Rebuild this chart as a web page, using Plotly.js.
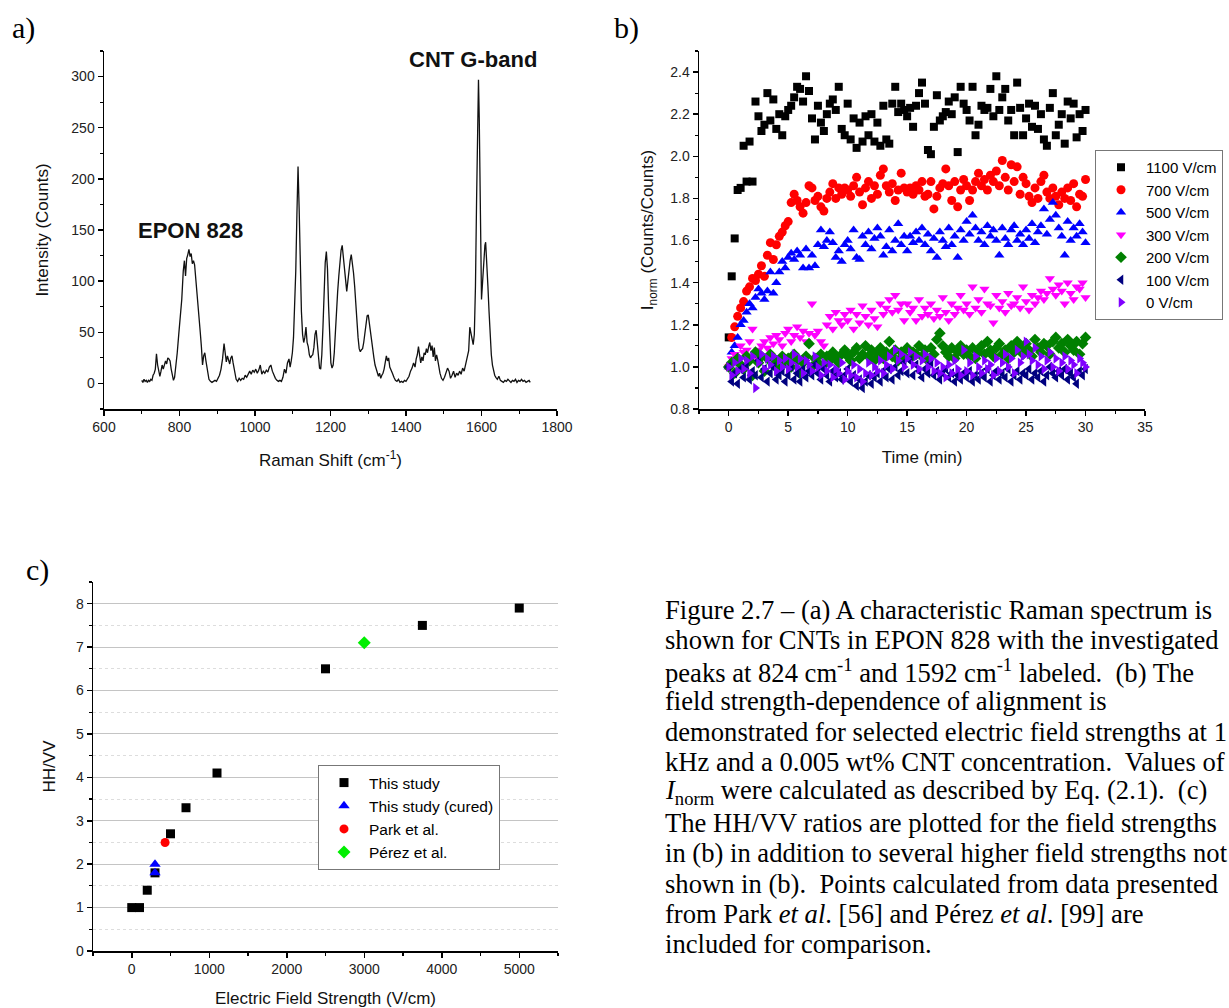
<!DOCTYPE html>
<html>
<head>
<meta charset="utf-8">
<script src="https://cdn.plot.ly/plotly-3.0.1.min.js"></script>
<style>
  html, body { margin: 0; padding: 0; background: #ffffff; }
  #chart { width: 1229px; height: 1008px; }
</style>
</head>
<body>
<div id="chart"></div>
<script>
// ---------------- Panel (a): Raman spectrum ----------------
const ramanShift = [
  700,703,706,709,712,715,718,721,724,727,730,733,736,739,742,745,748,751,754,757,
  760,763,766,769,772,775,778,781,784,787,790,794,798,802,806,810,813,816,819,822,
  825,828,831,834,837,840,843,846,849,852,855,858,861,864,867,870,874,878,882,886,
  890,894,898,902,906,910,914,918,921,924,927,930,933,936,939,942,946,950,954,958,
  962,966,970,974,978,982,986,990,994,998,1002,1006,1010,1014,1018,1022,1026,1030,1034,1038,
  1042,1046,1050,1054,1058,1062,1066,1070,1074,1078,1082,1086,1090,1093,1096,1099,1102,1105,1108,1111,
  1114,1117,1120,1123,1126,1129,1132,1135,1138,1141,1144,1147,1150,1153,1156,1159,1162,1165,1168,1171,
  1174,1177,1180,1183,1186,1189,1192,1195,1198,1201,1204,1207,1210,1213,1216,1219,1222,1225,1228,1231,
  1234,1237,1240,1243,1246,1249,1252,1255,1258,1261,1264,1267,1270,1273,1276,1279,1282,1285,1288,1291,
  1294,1297,1300,1303,1306,1309,1312,1315,1318,1321,1324,1327,1330,1333,1336,1339,1342,1345,1348,1351,
  1354,1357,1360,1364,1368,1372,1376,1380,1384,1388,1392,1396,1400,1404,1408,1412,1416,1420,1424,1427,
  1430,1433,1436,1439,1442,1445,1448,1451,1454,1457,1460,1463,1466,1469,1472,1475,1478,1481,1484,1487,
  1490,1494,1498,1502,1506,1510,1514,1518,1522,1526,1530,1534,1538,1542,1546,1550,1554,1558,1562,1566,
  1569,1572,1575,1578,1581,1584,1587,1590,1592,1594,1596,1598,1600,1603,1606,1609,1611,1614,1617,1620,
  1623,1626,1629,1632,1635,1638,1642,1646,1650,1654,1658,1662,1666,1670,1674,1678,1682,1686,1690,1694,
  1698,1702,1706,1710,1714,1718,1722,1726,1729
];
const intensity = [
  3,1,4,2,3,1,3,2,4,3,8,10,14,29,18,11,7,12,18,14,
  20,22,19,25,24,22,14,7,3,6,15,30,48,65,82,110,120,105,122,126,
  131,124,127,117,120,116,104,92,80,65,50,36,18,27,30,22,12,4,2,1,
  2,3,2,5,8,14,24,39,30,21,27,24,19,25,27,20,10,4,2,5,
  3,5,4,8,6,10,12,9,13,11,14,10,13,18,9,12,10,13,11,16,
  18,12,8,5,3,2,3,2,6,14,10,20,24,16,22,30,45,70,110,165,
  212,170,110,70,48,40,45,55,40,36,28,25,27,28,35,48,52,38,24,15,
  14,28,55,90,118,129,112,75,38,20,15,18,30,55,75,90,105,118,130,135,
  125,110,100,90,100,112,120,126,118,108,95,75,58,45,34,31,33,34,40,50,
  60,66,67,58,48,38,28,25,18,14,10,7,10,5,8,10,14,20,27,22,
  25,16,14,10,6,3,2,4,1,2,1,3,2,5,7,12,15,20,16,24,
  28,36,25,20,26,22,30,28,34,30,36,40,32,37,26,35,22,28,23,15,
  10,5,3,6,10,15,12,5,8,12,6,10,8,12,9,15,12,18,25,32,
  55,50,42,38,48,95,180,270,297,260,180,110,82,100,125,135,138,120,95,70,
  45,28,18,12,8,6,4,7,3,2,1,3,2,4,2,1,3,2,4,1,
  3,2,4,2,3,1,2,3,1
];

// ---------------- Panel (b): I_norm vs time ----------------
const timeMin = [
  0,0.25,0.5,0.75,1,1.25,1.5,1.75,2,2.25,
  2.5,2.75,3,3.25,3.5,3.75,4,4.25,4.5,4.75,
  5,5.25,5.5,5.75,6,6.25,6.5,6.75,7,7.25,
  7.5,7.75,8,8.25,8.5,8.75,9,9.25,9.5,9.75,
  10,10.25,10.5,10.75,11,11.25,11.5,11.75,12,12.25,
  12.5,12.75,13,13.25,13.5,13.75,14,14.25,14.5,14.75,
  15,15.25,15.5,15.75,16,16.25,16.5,16.75,17,17.25,
  17.5,17.75,18,18.25,18.5,18.75,19,19.25,19.5,19.75,
  20,20.25,20.5,20.75,21,21.25,21.5,21.75,22,22.25,
  22.5,22.75,23,23.25,23.5,23.75,24,24.25,24.5,24.75,
  25,25.25,25.5,25.75,26,26.25,26.5,26.75,27,27.25,
  27.5,27.75,28,28.25,28.5,28.75,29,29.25,29.5,29.75,
  30
];
const field1100 = [
  1.14,1.43,1.61,1.84,1.85,2.05,1.88,2.07,1.88,2.26,
  2.19,2.12,2.15,2.30,2.17,2.27,2.13,2.20,2.10,2.19,
  2.22,2.24,2.28,2.33,2.32,2.26,2.38,2.31,2.18,2.08,
  2.24,2.16,2.12,2.20,2.25,2.27,2.22,2.33,2.13,2.10,
  2.25,2.08,2.18,2.04,2.16,2.07,2.19,2.10,2.20,2.07,
  2.16,2.05,2.24,2.08,2.06,2.25,2.33,2.21,2.25,2.22,
  2.19,2.23,2.14,2.24,2.30,2.35,2.25,2.03,2.01,2.14,
  2.29,2.17,2.19,2.21,2.26,2.20,2.28,2.02,2.33,2.25,
  2.22,2.17,2.33,2.10,2.15,2.24,2.22,2.23,2.32,2.19,
  2.38,2.22,2.28,2.32,2.17,2.22,2.10,2.35,2.23,2.10,
  2.18,2.25,2.14,2.24,2.13,2.20,2.08,2.05,2.23,2.30,
  2.10,2.15,2.20,2.06,2.26,2.18,2.25,2.09,2.20,2.12,
  2.22
];
const field700 = [
  1.00,1.14,1.19,1.24,1.28,1.31,1.36,1.38,1.42,1.41,
  1.44,1.48,1.43,1.53,1.59,1.51,1.58,1.62,1.64,1.67,
  1.69,1.78,1.82,1.79,1.76,1.73,1.78,1.86,1.85,1.79,
  1.81,1.76,1.74,1.80,1.83,1.87,1.80,1.85,1.82,1.85,
  1.84,1.81,1.86,1.90,1.83,1.77,1.85,1.88,1.80,1.86,
  1.82,1.91,1.94,1.86,1.83,1.87,1.79,1.84,1.92,1.85,
  1.83,1.85,1.82,1.86,1.84,1.88,1.81,1.82,1.88,1.75,
  1.81,1.85,1.87,1.94,1.86,1.79,1.88,1.76,1.84,1.89,
  1.86,1.79,1.84,1.88,1.92,1.86,1.89,1.84,1.91,1.88,
  1.93,1.86,1.98,1.90,1.84,1.96,1.88,1.95,1.82,1.90,
  1.87,1.81,1.78,1.85,1.80,1.88,1.91,1.83,1.80,1.85,
  1.81,1.77,1.83,1.80,1.85,1.79,1.87,1.76,1.82,1.81,
  1.89
];
const field500 = [
  1.00,1.07,1.10,1.14,1.20,1.22,1.26,1.30,1.28,1.33,
  1.37,1.35,1.32,1.36,1.45,1.35,1.40,1.45,1.50,1.47,
  1.52,1.54,1.51,1.55,1.53,1.47,1.56,1.47,1.53,1.48,
  1.58,1.65,1.57,1.60,1.64,1.59,1.52,1.55,1.50,1.58,
  1.60,1.56,1.65,1.52,1.51,1.62,1.58,1.64,1.56,1.61,
  1.66,1.62,1.53,1.57,1.65,1.55,1.60,1.68,1.58,1.62,
  1.55,1.62,1.59,1.64,1.60,1.66,1.58,1.63,1.55,1.61,
  1.52,1.64,1.60,1.57,1.66,1.58,1.62,1.52,1.65,1.60,
  1.69,1.63,1.72,1.66,1.60,1.64,1.58,1.67,1.62,1.65,
  1.60,1.53,1.66,1.61,1.58,1.65,1.67,1.60,1.63,1.58,
  1.65,1.61,1.68,1.59,1.64,1.67,1.75,1.63,1.70,1.78,
  1.72,1.66,1.62,1.53,1.69,1.60,1.66,1.62,1.68,1.64,
  1.59
];
const field300 = [
  1.00,1.04,1.06,1.02,1.10,1.07,1.08,1.12,1.18,1.05,
  1.08,1.10,1.12,1.09,1.14,1.11,1.15,1.13,1.10,1.16,
  1.18,1.12,1.15,1.19,1.14,1.17,1.12,1.16,1.30,1.15,
  1.17,1.12,1.10,1.20,1.24,1.18,1.26,1.22,1.20,1.25,
  1.22,1.27,1.18,1.25,1.21,1.29,1.24,1.20,1.27,1.23,
  1.19,1.30,1.25,1.28,1.32,1.26,1.34,1.27,1.30,1.22,
  1.30,1.26,1.28,1.22,1.32,1.24,1.28,1.25,1.30,1.23,
  1.27,1.24,1.33,1.26,1.22,1.30,1.25,1.28,1.34,1.27,
  1.30,1.25,1.38,1.28,1.32,1.26,1.37,1.30,1.29,1.21,
  1.34,1.28,1.31,1.26,1.35,1.29,1.30,1.33,1.28,1.38,
  1.31,1.27,1.34,1.30,1.33,1.36,1.32,1.35,1.42,1.37,
  1.34,1.39,1.36,1.30,1.40,1.35,1.32,1.38,1.37,1.40,
  1.33
];
const field200 = [
  1.00,1.02,0.97,1.04,1.01,0.99,1.05,1.03,0.96,1.07,
  1.02,1.05,0.98,1.04,1.06,1.01,1.03,0.99,1.05,1.02,
  1.04,1.00,1.06,1.03,0.97,1.02,1.05,1.11,1.00,1.04,
  1.02,1.06,1.01,1.05,1.03,1.07,1.04,1.02,1.06,1.08,
  1.05,1.03,1.07,1.09,1.04,1.06,1.10,1.05,1.08,1.03,
  1.06,1.09,1.04,1.07,1.12,1.05,1.08,1.03,1.07,1.05,
  1.09,1.04,1.07,1.06,1.10,1.05,1.08,1.03,1.09,1.06,
  1.13,1.16,1.10,1.07,1.05,1.09,1.04,1.07,1.10,1.06,
  1.08,1.05,1.09,1.04,1.07,1.10,1.06,1.12,1.08,1.05,
  1.09,1.11,1.06,1.08,1.04,1.10,1.07,1.12,1.09,1.06,
  1.11,1.08,1.05,1.13,1.09,1.07,1.11,1.10,1.06,1.12,
  1.14,1.09,1.11,1.07,1.13,1.10,1.08,1.12,1.06,1.11,
  1.14
];
const field100 = [
  1.00,0.93,0.97,0.92,0.99,0.95,1.01,0.94,0.98,0.96,
  1.03,0.95,0.99,0.93,0.97,1.00,0.94,0.96,0.98,0.93,
  0.96,1.00,0.94,0.97,0.93,0.99,0.95,0.98,0.96,1.01,
  0.97,0.94,0.99,0.96,0.93,0.98,0.95,0.97,0.94,0.96,
  0.99,0.93,0.96,0.91,0.94,0.90,0.93,0.96,0.92,0.95,
  0.97,0.93,0.98,0.95,0.99,0.94,1.00,0.96,0.98,1.02,
  0.97,1.03,0.96,1.01,0.98,0.95,0.99,0.97,1.02,0.96,
  0.98,0.94,0.97,0.99,0.95,0.97,0.93,0.96,0.94,0.97,
  0.95,0.98,0.93,0.96,0.94,0.97,0.95,0.99,0.93,0.96,
  0.98,0.94,0.97,0.95,0.99,0.93,0.96,0.98,0.94,0.97,
  0.96,0.99,0.94,0.97,0.95,0.98,0.93,0.96,1.00,0.97,
  0.95,0.98,0.96,0.99,0.94,0.97,0.95,0.92,0.98,0.96,
  0.99
];
const field0 = [
  1.00,0.96,1.02,0.98,1.04,0.99,1.03,0.97,1.05,0.90,
  1.02,1.06,0.99,1.04,1.01,1.05,0.98,1.03,1.00,1.04,
  0.99,1.02,1.06,1.00,1.04,0.97,1.03,1.01,0.98,1.05,
  1.00,0.96,1.02,0.98,1.01,0.95,0.99,0.97,1.02,0.94,
  0.98,0.96,1.01,0.95,0.99,0.93,0.97,1.02,0.96,1.00,
  0.98,1.03,0.97,1.01,1.05,0.99,1.08,1.03,1.06,1.00,
  1.04,1.07,1.01,1.05,0.99,1.03,1.06,1.00,1.04,0.98,
  1.02,0.97,1.00,0.95,1.01,0.97,1.03,0.99,0.96,1.08,
  0.98,1.02,0.96,1.05,1.00,0.97,1.03,0.99,1.01,0.96,
  1.04,0.98,1.02,1.06,1.00,1.04,0.97,1.08,1.02,1.05,
  1.12,1.06,1.03,1.09,1.01,1.05,0.99,1.03,1.07,1.00,
  1.04,0.98,1.02,1.05,0.99,1.03,1.01,0.97,1.04,1.02,
  1.00
];
const seriesNamesB = ["1100 V/cm","700 V/cm","500 V/cm","300 V/cm","200 V/cm","100 V/cm","0 V/cm"];

// ---------------- Panel (c): HH/VV vs field ----------------
const studyField = [0, 100, 200, 300, 500, 700, 1100, 2500, 3750, 5000];
const studyRatio = [1.0, 1.0, 1.4, 1.8, 2.7, 3.3, 4.1, 6.5, 7.5, 7.9];
const curedField = [300, 300];
const curedRatio = [2.0, 1.8];
const parkField = [430];
const parkRatio = [2.5];
const perezField = [3000];
const perezRatio = [7.1];
const seriesNamesC = ["This study", "This study (cured)", "Park et al.", "Pérez et al."];

// ---------------- Layout helpers ----------------
const W = 1229, H = 1008;
const px = v => v / W;
const py = v => 1 - v / H;
const SANS = "Liberation Sans, Arial, sans-serif";
const SERIF = "Liberation Serif, Times New Roman, serif";
const tickFont = {family: SANS, size: 14, color: "#222"};
const titleFont = {family: SANS, size: 17, color: "#111"};

function axisBase(extra) {
  return Object.assign({
    showline: true, linecolor: "#000", linewidth: 1.5,
    ticks: "outside", ticklen: 5, tickwidth: 1.5, tickcolor: "#000",
    showgrid: false, zeroline: false, tickfont: tickFont,
    fixedrange: true
  }, extra);
}

const traces = [];
traces.push({
  x: ramanShift, y: intensity, type: "scatter", mode: "lines",
  line: {color: "#111", width: 1.3}, xaxis: "x", yaxis: "y", showlegend: false
});

const bSeries = [field1100, field700, field500, field300, field200, field100, field0];
const bColors = ["#000000", "#ff0000", "#0000ff", "#ff00ff", "#008000", "#000080", "#8000ff"];
const bSymbols = ["square", "circle", "triangle-up", "triangle-down", "diamond", "triangle-left", "triangle-right"];
const bSizes = [8, 9, 9, 9, 9, 9, 9];
bSeries.forEach((ys, i) => {
  traces.push({
    x: timeMin, y: ys, type: "scatter", mode: "markers", name: seriesNamesB[i],
    marker: {color: bColors[i], symbol: bSymbols[i], size: bSizes[i], line: {width: 0}},
    xaxis: "x2", yaxis: "y2", legend: "legend"
  });
});

const cX = [studyField, curedField, parkField, perezField];
const cY = [studyRatio, curedRatio, parkRatio, perezRatio];
const cColors = ["#000000", "#0000ff", "#ff0000", "#00ee00"];
const cSymbols = ["square", "triangle-up", "circle", "diamond"];
const cSizes = [9, 10, 9, 10];
cX.forEach((xs, i) => {
  traces.push({
    x: xs, y: cY[i], type: "scatter", mode: "markers", name: seriesNamesC[i],
    marker: {color: cColors[i], symbol: cSymbols[i], size: cSizes[i], line: {width: 0}},
    xaxis: "x3", yaxis: "y3", legend: "legend2"
  });
});

const captionLines = [
  "Figure 2.7 – (a) A characteristic Raman spectrum is",
  "shown for CNTs in EPON 828 with the investigated",
  "peaks at 824 cm<sup>-1</sup> and 1592 cm<sup>-1</sup> labeled.\u00a0 (b) The",
  "field strength-dependence of alignment is",
  "demonstrated for selected electric field strengths at 1",
  "kHz and a 0.005 wt% CNT concentration.\u00a0 Values of",
  "<i>I</i><sub>norm</sub> were calculated as described by Eq. (2.1).\u00a0 (c)",
  "The HH/VV ratios are plotted for the field strengths",
  "in (b) in addition to several higher field strengths not",
  "shown in (b).\u00a0 Points calculated from data presented",
  "from Park <i>et al</i>. [56] and Pérez <i>et al</i>. [99] are",
  "included for comparison."
];

const annotations = [
  {text: "a)", x: px(10), y: py(28), xref: "paper", yref: "paper", xanchor: "left", yanchor: "middle",
   showarrow: false, font: {family: SERIF, size: 30, color: "#000"}},
  {text: "b)", x: px(612), y: py(28), xref: "paper", yref: "paper", xanchor: "left", yanchor: "middle",
   showarrow: false, font: {family: SERIF, size: 30, color: "#000"}},
  {text: "c)", x: px(24), y: py(570), xref: "paper", yref: "paper", xanchor: "left", yanchor: "middle",
   showarrow: false, font: {family: SERIF, size: 30, color: "#000"}},
  {text: "<b>EPON 828</b>", x: 830, y: 150, xref: "x", yref: "y", showarrow: false,
   font: {family: SANS, size: 22, color: "#111"}},
  {text: "<b>CNT G-band</b>", x: 1578, y: 317, xref: "x", yref: "y", showarrow: false,
   font: {family: SANS, size: 22, color: "#111"}}
];
captionLines.forEach((t, i) => {
  annotations.push({
    text: t, x: px(663), y: py(610 + 30.4 * i), xref: "paper", yref: "paper",
    xanchor: "left", yanchor: "middle", align: "left", showarrow: false,
    font: {family: SERIF, size: 26.6, color: "#000"}
  });
});

const layout = {
  width: W, height: H,
  margin: {l: 0, r: 0, t: 0, b: 0, pad: 0, autoexpand: false},
  paper_bgcolor: "#fff", plot_bgcolor: "#fff",
  hovermode: false,
  xaxis: axisBase({domain: [px(104), px(557)], range: [600, 1800], dtick: 200, tick0: 600,
    anchor: "y", minor: {dtick: 100, ticks: "outside", ticklen: 3, tickwidth: 1.2, tickcolor: "#000"},
    title: {text: "Raman Shift (cm<sup>-1</sup>)", font: titleFont, standoff: 20}}),
  yaxis: axisBase({domain: [py(409), py(51)], range: [-25, 325], dtick: 50, tick0: 0,
    anchor: "x", minor: {dtick: 25, ticks: "outside", ticklen: 3, tickwidth: 1.2, tickcolor: "#000"},
    title: {text: "Intensity (Counts)", font: titleFont, standoff: 18}}),
  xaxis2: axisBase({domain: [px(699), px(1145)], range: [-2.5, 35], dtick: 5, tick0: 0,
    anchor: "y2", minor: {dtick: 2.5, ticks: "outside", ticklen: 3, tickwidth: 1.2, tickcolor: "#000"},
    title: {text: "Time (min)", font: titleFont, standoff: 17}}),
  yaxis2: axisBase({domain: [py(409), py(51)], range: [0.8, 2.5], dtick: 0.2, tick0: 0.8,
    tickformat: ".1f", anchor: "x2",
    minor: {dtick: 0.1, ticks: "outside", ticklen: 3, tickwidth: 1.2, tickcolor: "#000"},
    title: {text: "I<sub>norm</sub> (Counts/Counts)", font: titleFont, standoff: 12}}),
  xaxis3: axisBase({domain: [px(93), px(558)], range: [-500, 5500], dtick: 1000, tick0: 0,
    anchor: "y3", minor: {dtick: 500, ticks: "outside", ticklen: 3, tickwidth: 1.2, tickcolor: "#000"},
    title: {text: "Electric Field Strength (V/cm)", font: titleFont, standoff: 17}}),
  yaxis3: axisBase({domain: [py(951), py(582)], range: [0, 8.5], dtick: 1, tick0: 0,
    anchor: "x3", showgrid: true, gridcolor: "#c4c4c4", gridwidth: 1,
    minor: {dtick: 0.5, ticks: "outside", ticklen: 3, tickwidth: 1.2, tickcolor: "#000",
            showgrid: true, gridcolor: "#dddddd", griddash: "dot", gridwidth: 1},
    title: {text: "HH/VV", font: titleFont, standoff: 16}}),
  legend: {x: px(1095), y: py(150), xanchor: "left", yanchor: "top",
    bgcolor: "#fff", bordercolor: "#777", borderwidth: 1, itemwidth: 40,
    font: {family: SANS, size: 15, color: "#000"}, tracegroupgap: 0},
  legend2: {x: px(318), y: py(765), xanchor: "left", yanchor: "top",
    bgcolor: "#fff", bordercolor: "#777", borderwidth: 1, itemwidth: 40,
    font: {family: SANS, size: 15.5, color: "#000"}, tracegroupgap: 0},
  annotations: annotations
};

Plotly.newPlot("chart", traces, layout, {displayModeBar: false, staticPlot: true});
</script>
</body>
</html>
